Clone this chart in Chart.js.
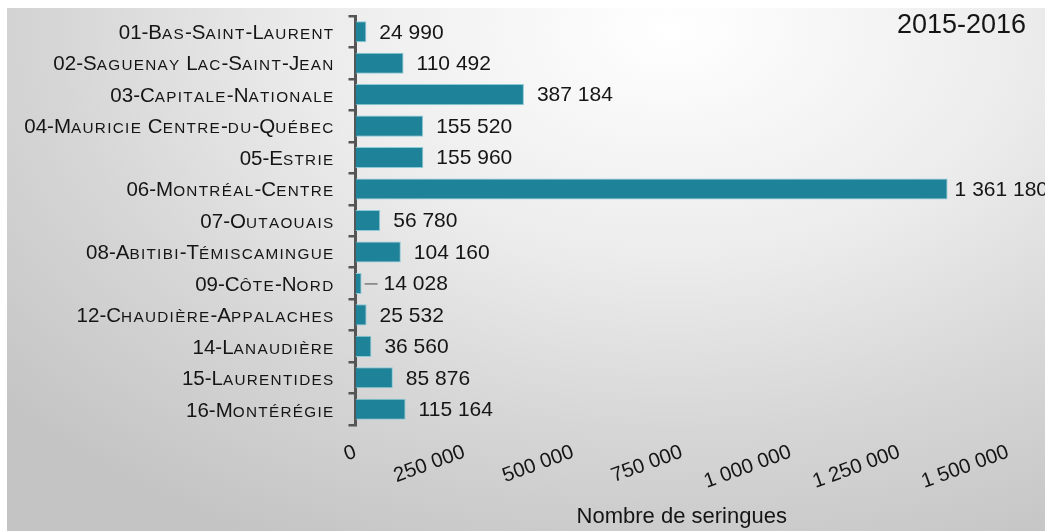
<!DOCTYPE html>
<html>
<head>
<meta charset="utf-8">
<script src="https://cdn.jsdelivr.net/npm/chart.js@4"></script>
<style>
  html, body { margin: 0; padding: 0; background: #ffffff; }
  #wrap {
    position: absolute; left: 7px; top: 8px; width: 1038px; height: 523px;
    background: radial-gradient(ellipse 85% 110% at 64% 4%, #ffffff 0%, #ececec 40%, #d6d6d6 70%, #c4c4c4 100%);
  }
  canvas { display: block; }
</style>
</head>
<body>
<div id="wrap"><canvas id="c" width="1038" height="523"></canvas></div>
<script>
const categories = [
  "01-Bas-Saint-Laurent",
  "02-Saguenay Lac-Saint-Jean",
  "03-Capitale-Nationale",
  "04-Mauricie Centre-du-Québec",
  "05-Estrie",
  "06-Montréal-Centre",
  "07-Outaouais",
  "08-Abitibi-Témiscamingue",
  "09-Côte-Nord",
  "12-Chaudière-Appalaches",
  "14-Lanaudière",
  "15-Laurentides",
  "16-Montérégie"
];
const seringues = [24990, 110492, 387184, 155520, 155960, 1361180, 56780, 104160, 14028, 25532, 36560, 85876, 115164];
const xTicks = [0, 250000, 500000, 750000, 1000000, 1250000, 1500000];
const periodTitle = "2015-2016";
const xAxisTitle = "Nombre de seringues";

const fmt = v => String(v).replace(/\B(?=(\d{3})+(?!\d))/g, ' ');
const FAMILY = "'Liberation Sans', Arial, Helvetica, sans-serif";
const BIG = 20.5, SMALL = 15.3, SMALL_SPACING = 1.3;

// draw a label in small capitals, right-aligned at xRight
function drawSmallCaps(ctx, text, xRight, y) {
  const parts = [];
  for (const ch of text) {
    const up = ch.toUpperCase();
    parts.push({ ch: up, small: ch !== up });
  }
  let total = 0;
  parts.forEach(p => {
    ctx.font = (p.small ? SMALL : BIG) + "px " + FAMILY;
    p.w = ctx.measureText(p.ch).width + (p.small ? SMALL_SPACING : 0);
    total += p.w;
  });
  let x = xRight - total;
  ctx.textAlign = 'left';
  ctx.textBaseline = 'alphabetic';
  parts.forEach(p => {
    ctx.font = (p.small ? SMALL : BIG) + "px " + FAMILY;
    ctx.fillText(p.ch, x, y);
    x += p.w;
  });
}

const overlay = {
  id: 'overlay',
  afterDraw(chart) {
    const ctx = chart.ctx;
    const yScale = chart.scales.y;
    ctx.save();
    ctx.fillStyle = '#151515';
    categories.forEach((lab, i) => {
      const py = yScale.getPixelForTick(i);
      drawSmallCaps(ctx, lab, yScale.right - 21, py + 7.3);
    });
    ctx.restore();
  },
  afterDatasetsDraw(chart) {
    const ctx = chart.ctx;
    const meta = chart.getDatasetMeta(0);
    const maxV = Math.max(...seringues);
    ctx.save();
    ctx.font = "21px " + FAMILY;
    ctx.fillStyle = '#151515';
    ctx.textBaseline = 'middle';
    ctx.textAlign = 'left';
    meta.data.forEach((bar, i) => {
      const v = seringues[i];
      let gap = 13;
      if (v === maxV) gap = 7;
      if (v < 20000) {
        gap = 22;
        ctx.strokeStyle = '#6a6a6a';
        ctx.lineWidth = 1.3;
        ctx.beginPath();
        ctx.moveTo(bar.x + 3, bar.y + 0.5);
        ctx.lineTo(bar.x + 16, bar.y + 0.5);
        ctx.stroke();
      }
      ctx.fillText(fmt(v), bar.x + gap, bar.y + 1);
    });
    ctx.font = "27px " + FAMILY;
    ctx.textAlign = 'right';
    ctx.fillText(periodTitle, 1019, 18);
    ctx.restore();
  }
};

new Chart(document.getElementById('c'), {
  type: 'bar',
  data: {
    labels: categories,
    datasets: [{
      data: seringues,
      backgroundColor: '#1e8299',
      borderColor: '#8ccad8',
      borderWidth: 1,
      barPercentage: 0.67,
      categoryPercentage: 1
    }]
  },
  options: {
    indexAxis: 'y',
    responsive: false,
    animation: false,
    layout: { padding: { top: 8, right: 37, left: 0, bottom: 0 } },
    plugins: { legend: { display: false }, tooltip: { enabled: false }, title: { display: false } },
    scales: {
      x: {
        min: 0, max: 1500000,
        afterBuildTicks(scale) { scale.ticks = xTicks.map(v => ({ value: v })); },
        afterFit(scale) { scale.height = 106; scale.paddingLeft = 0; scale.paddingRight = 0; },
        grid: { display: false, drawTicks: false },
        border: { display: false },
        ticks: {
          minRotation: 20, maxRotation: 20, autoSkip: false,
          padding: 15,
          color: '#151515',
          font: { size: 20.5, family: FAMILY },
          callback: v => fmt(v)
        },
        title: {
          display: true, text: xAxisTitle, color: '#151515',
          font: { size: 22, family: FAMILY },
          padding: { top: 4, bottom: 1 }
        }
      },
      y: {
        afterFit(scale) { scale.width = 348.5; scale.paddingTop = 0; scale.paddingBottom = 0; },
        grid: { display: true, drawOnChartArea: false, offset: true, tickLength: 7, color: '#555', lineWidth: 2.5 },
        border: { display: true, color: '#555', width: 3 },
        ticks: {
          padding: 15,
          color: 'rgba(0,0,0,0)',
          font: { size: 20, family: FAMILY }
        }
      }
    }
  },
  plugins: [overlay]
});
</script>
</body>
</html>
